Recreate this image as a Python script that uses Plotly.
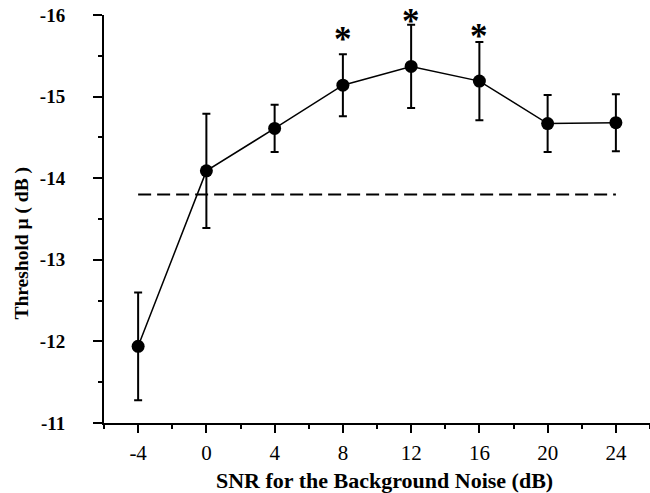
import plotly.graph_objects as go

snr = [-4, 0, 4, 8, 12, 16, 20, 24]
threshold = [-11.94, -14.09, -14.61, -15.14, -15.37, -15.19, -14.67, -14.68]
err = [0.66, 0.70, 0.29, 0.38, 0.51, 0.48, 0.35, 0.35]

ref_x = [-4, 24]
ref_y = [-13.8, -13.8]

star_x = [8, 12, 16]
star_y = [-15.767, -15.98, -15.80]

x_ticks = [-4, 0, 4, 8, 12, 16, 20, 24]
x_ticktext = ["-4", "0", "4", "8", "12", "16", "20", "24"]
y_ticks = [-16, -15, -14, -13, -12, -11]
y_ticktext = ["-16", "-15", "-14", "-13", "-12", "-11"]

FONT = "Liberation Serif"
STAR_SIZE = 35

fig = go.Figure()

fig.add_trace(go.Scatter(
    x=ref_x, y=ref_y, mode="lines",
    line=dict(color="black", width=2, dash="13px,6px"),
    hoverinfo="skip", showlegend=False,
))

fig.add_trace(go.Scatter(
    x=snr, y=threshold, mode="lines+markers",
    line=dict(color="black", width=1.5),
    marker=dict(color="black", size=13),
    error_y=dict(type="data", array=err, visible=True,
                 color="black", thickness=2, width=4),
    showlegend=False,
))

for sx, sy in zip(star_x, star_y):
    fig.add_annotation(x=sx, y=sy, text="<b>*</b>", showarrow=False,
                       xref="x", yref="y", xanchor="center", yanchor="middle",
                       yshift=-0.153 * STAR_SIZE,
                       font=dict(family=FONT, size=STAR_SIZE, color="black"))

fig.add_annotation(text="<b>Threshold μ ( dB )</b>", textangle=-90,
                   xref="paper", yref="paper", x=-0.150, y=0.44,
                   xanchor="center", yanchor="middle",
                   showarrow=False,
                   font=dict(family=FONT, size=19.5, color="black"))
fig.add_annotation(text="<b>SNR for the Background Noise (dB)</b>",
                   xref="paper", yref="paper", x=0.513, y=-0.142,
                   xanchor="center", yanchor="middle",
                   showarrow=False,
                   font=dict(family=FONT, size=22, color="black"))

fig.update_xaxes(
    range=[-6, 26], showline=True, linecolor="black", linewidth=2,
    showgrid=False, zeroline=False,
    ticks="outside", ticklen=8, tickwidth=2, tickcolor="black",
    tickvals=x_ticks, ticktext=x_ticktext,
    ticklabelstandoff=2,
    tickfont=dict(family=FONT, size=21, color="black"),
    minor=dict(ticks="outside", ticklen=4, tickwidth=2, tickcolor="black",
               dtick=2, tick0=0, showgrid=False),
)
fig.update_yaxes(
    range=[-11, -16], showline=True, linecolor="black", linewidth=2,
    showgrid=False, zeroline=False,
    ticks="outside", ticklen=9, tickwidth=2, tickcolor="black",
    tickvals=y_ticks, ticktext=y_ticktext,
    ticklabelstandoff=24,
    tickfont=dict(family=FONT, size=19, color="black", weight="bold"),
    minor=dict(ticks="outside", ticklen=4, tickwidth=2, tickcolor="black",
               dtick=0.5, tick0=0, showgrid=False),
)

fig.update_layout(
    width=650, height=493,
    margin=dict(l=104, r=0, t=15, b=70),
    plot_bgcolor="white", paper_bgcolor="white",
)

fig.write_html("out.html")
